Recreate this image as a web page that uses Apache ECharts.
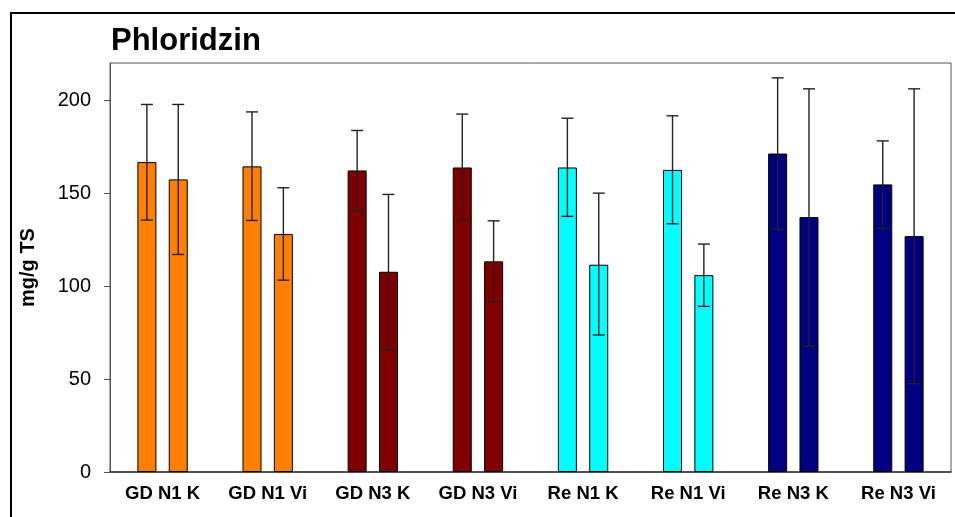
<!DOCTYPE html>
<html>
<head>
<meta charset="utf-8">
<script src="https://cdn.jsdelivr.net/npm/echarts@6/dist/echarts.min.js"></script>
<style>
  html, body { margin: 0; padding: 0; background: #fff; }
  #chart { width: 955px; height: 517px; }
</style>
</head>
<body>
<div id="chart"></div>
<script>
const categories = ['GD N1 K', 'GD N1 Vi', 'GD N3 K', 'GD N3 Vi', 'Re N1 K', 'Re N1 Vi', 'Re N3 K', 'Re N3 Vi'];
const groupColors = ['#FF8000', '#FF8000', '#800000', '#800000', '#00FFFF', '#00FFFF', '#000080', '#000080'];

const mean1 = [166.7, 164.4, 162.2, 163.8, 163.8, 162.5, 171.3, 154.7];
const high1 = [197.7, 193.7, 183.7, 192.5, 190.3, 191.6, 212.0, 178.1];
const low1  = [135.5, 135.3, 140.3, 135.3, 137.5, 133.5, 130.6, 131.0];

const mean2 = [157.4, 128.0, 107.7, 113.3, 111.5, 105.9, 137.1, 126.9];
const high2 = [197.7, 152.9, 149.3, 135.1, 150.0, 122.6, 206.1, 206.1];
const low2  = [117.0, 103.2, 65.6, 91.6, 73.7, 89.1, 67.7, 47.5];

const yTicks = { min: 0, max: 220, interval: 50 };

const BAR_W = 19;
const GAP_PCT = 65;
const half = (BAR_W + BAR_W * GAP_PCT / 100) / 2;

function errSeries(lo, hi, offset) {
  return {
    type: 'custom',
    z: 10,
    data: categories.map((c, i) => [i, lo[i], hi[i]]),
    renderItem: function (params, api) {
      const pLo = api.coord([api.value(0), api.value(1)]);
      const pHi = api.coord([api.value(0), api.value(2)]);
      const x = pLo[0] + offset;
      const cap = 6;
      const st = { stroke: '#222', lineWidth: 1.4 };
      return {
        type: 'group',
        children: [
          { type: 'line', shape: { x1: x, y1: pHi[1], x2: x, y2: pLo[1] }, style: st },
          { type: 'line', shape: { x1: x - cap, y1: pHi[1], x2: x + cap, y2: pHi[1] }, style: st },
          { type: 'line', shape: { x1: x - cap, y1: pLo[1], x2: x + cap, y2: pLo[1] }, style: st }
        ]
      };
    }
  };
}

function barSeries(vals) {
  return {
    type: 'bar',
    barWidth: BAR_W,
    barGap: GAP_PCT + '%',
    data: vals.map((v, i) => ({ value: v, itemStyle: { color: groupColors[i] } })),
    itemStyle: { borderColor: '#000', borderWidth: 1 }
  };
}

const chart = echarts.init(document.getElementById('chart'));
chart.setOption({
  animation: false,
  backgroundColor: '#fff',
  textStyle: { fontFamily: 'Liberation Sans, Arial, sans-serif' },
  title: {
    text: 'Phloridzin',
    left: 106,
    top: 21,
    textStyle: { fontSize: 31, fontWeight: 'bold', color: '#000', fontFamily: 'Liberation Sans, Arial, sans-serif' }
  },
  graphic: [{
    type: 'rect',
    shape: { x: 11, y: 13, width: 1000, height: 600 },
    style: { fill: 'none', stroke: '#000', lineWidth: 2 },
    silent: true
  }],
  grid: {
    left: 110, right: 4, top: 63, bottom: 45,
    show: true, borderColor: '#555', borderWidth: 1
  },
  xAxis: {
    type: 'category',
    data: categories,
    axisLine: { lineStyle: { color: '#333', width: 1.5 } },
    axisTick: { alignWithLabel: true, length: 6, lineStyle: { color: '#555' } },
    axisLabel: { fontSize: 18.5, fontWeight: 'bold', color: '#000', margin: 12, interval: 0 }
  },
  yAxis: {
    type: 'value',
    min: yTicks.min, max: yTicks.max, interval: yTicks.interval,
    name: 'mg/g TS',
    nameLocation: 'middle',
    nameGap: 72,
    nameTextStyle: { fontSize: 20, fontWeight: 'bold', color: '#000' },
    splitLine: { show: false },
    axisLine: { show: true, lineStyle: { color: '#555', width: 1 } },
    axisTick: { show: true, length: 6, lineStyle: { color: '#555' } },
    axisLabel: { fontSize: 20, color: '#000', margin: 19, showMaxLabel: false }
  },
  series: [
    barSeries(mean1),
    barSeries(mean2),
    errSeries(low1, high1, -half),
    errSeries(low2, high2, half)
  ]
});
</script>
</body>
</html>
